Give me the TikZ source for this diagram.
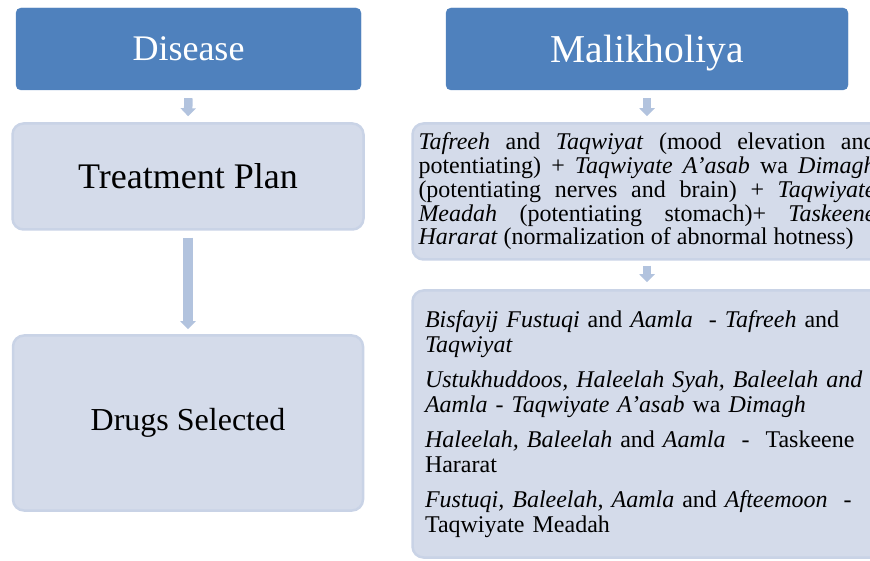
\documentclass[tikz,border=0pt]{standalone}
\usepackage{fontspec}
\setmainfont{Liberation Serif}
\usetikzlibrary{arrows.meta}
\definecolor{accblue}{RGB}{79,129,189}
\definecolor{boxfill}{RGB}{212,219,234}
\definecolor{boxline}{RGB}{201,211,230}
\definecolor{arrblue}{RGB}{178,195,222}

\tikzset{
  headbox/.style={rectangle, rounded corners=5pt, fill=accblue, draw=accblue, text=white, inner sep=0pt, text depth=0pt},
  stepbox/.style={rectangle, rounded corners=11pt, fill=boxfill, draw=boxline, line width=2.5pt, inner sep=0pt},
  flowarrow/.style={arrblue, line width=8.5pt, -{Triangle[width=15pt,length=8pt]}}
}

\begin{document}
\begin{tikzpicture}[x=1pt,y=1pt]
     \useasboundingbox (0,0) rectangle (870,560);
     \clip (0,0) rectangle (870,560);

     % left column
     \node [headbox, minimum width=345pt, minimum height=82pt, font=\fontsize{36}{40}\selectfont] (disease) at (188.5,511) {Disease};
     \node [stepbox, minimum width=351pt, minimum height=106pt, font=\fontsize{36}{40}\selectfont] (plan) at (188,383.5) {Treatment Plan};
     \node [stepbox, minimum width=350pt, minimum height=175pt, font=\fontsize{32}{36}\selectfont] (drugs) at (188,137) {Drugs Selected};

     % right column
     \node [headbox, minimum width=402pt, minimum height=82pt, font=\fontsize{39.5}{44}\selectfont] (malik) at (647,511) {Malikholiya};
     \node [stepbox, minimum width=469pt, minimum height=136pt, text width=457pt, align=justify, font=\fontsize{24}{23.8}\selectfont] (effect) at (647,368.5)
       {\textit{Tafreeh} and \textit{Taqwiyat} (mood elevation and\linebreak
        potentiating) + \textit{Taqwiyate A’asab} wa \textit{Dimagh}\linebreak
        (potentiating nerves and brain) + \textit{Taqwiyate}\linebreak
        \textit{Meadah} (potentiating stomach)+ \textit{Taskeene}\linebreak
        \textit{Hararat} (normalization of abnormal hotness)};
     \node [stepbox, minimum width=469pt, minimum height=267pt, text width=444pt, align=left, font=\fontsize{24}{25}\selectfont] (remedy) at (647,136)
       {\textit{Bisfayij Fustuqi} and \textit{Aamla}\ \ - \textit{Tafreeh} and\\
        \textit{Taqwiyat}\\[10pt]
        \textit{Ustukhuddoos, Haleelah Syah, Baleelah and}\\
        \textit{Aamla - Taqwiyate A’asab} wa \textit{Dimagh}\\[10pt]
        \textit{Haleelah, Baleelah} and \textit{Aamla}\ \ -\ \ Taskeene\\
        Hararat\\[10pt]
        \textit{Fustuqi, Baleelah, Aamla} and \textit{Afteemoon}\ \ -\\
        Taqwiyate Meadah};

     \draw [flowarrow, shorten <=8pt, shorten >=6pt] (disease.south) -- (plan.north);
     \draw [flowarrow, line width=10.5pt, shorten <=7pt, shorten >=5pt] (plan.south) -- (drugs.north);
     \draw [flowarrow, shorten <=8pt, shorten >=6pt] (malik.south) -- (effect.north);
     \draw [flowarrow, shorten <=5pt, shorten >=7pt] (effect.south) -- (remedy.north);
\end{tikzpicture}
\end{document}
